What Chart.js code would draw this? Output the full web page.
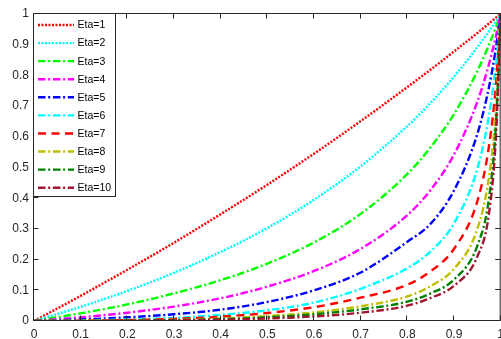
<!DOCTYPE html>
<html>
<head>
<meta charset="utf-8">
<script src="https://cdn.jsdelivr.net/npm/chart.js@4"></script>
<style>
  body { margin: 0; background: #fff; }
  #wrap { width: 501px; height: 339px; overflow: hidden; }
</style>
</head>
<body>
<div id="wrap"><canvas id="chart" width="510" height="339"></canvas></div>
<script>
// Data
const etaLabels = ["Eta=1", "Eta=2", "Eta=3", "Eta=4", "Eta=5", "Eta=6", "Eta=7", "Eta=8", "Eta=9", "Eta=10"];
const xValues = [0, 0.1, 0.2, 0.3, 0.4, 0.5, 0.6, 0.7, 0.8, 0.85, 0.9, 0.95, 0.975, 0.99, 1];
const eta1 = [0, 0.082, 0.167, 0.255, 0.348, 0.444, 0.545, 0.651, 0.762, 0.819, 0.878, 0.938, 0.969, 0.988, 1];
const eta2 = [0, 0.046, 0.098, 0.157, 0.225, 0.303, 0.395, 0.504, 0.635, 0.711, 0.796, 0.892, 0.944, 0.977, 1];
const eta3 = [0, 0.025, 0.054, 0.090, 0.133, 0.187, 0.256, 0.349, 0.479, 0.566, 0.674, 0.814, 0.900, 0.958, 1];
const eta4 = [0, 0.012, 0.027, 0.047, 0.074, 0.112, 0.163, 0.235, 0.345, 0.427, 0.542, 0.714, 0.837, 0.929, 1];
const eta5 = [0, 0.005, 0.012, 0.022, 0.037, 0.062, 0.100, 0.158, 0.258, 0.317, 0.425, 0.609, 0.762, 0.890, 1];
const eta6 = [0, 0.002, 0.005, 0.010, 0.020, 0.035, 0.060, 0.105, 0.172, 0.227, 0.318, 0.496, 0.669, 0.837, 1];
const eta7 = [0, 0.001, 0.003, 0.007, 0.014, 0.026, 0.045, 0.076, 0.118, 0.162, 0.235, 0.390, 0.570, 0.772, 1];
const eta8 = [0, 0.0005, 0.002, 0.004, 0.008, 0.016, 0.028, 0.048, 0.080, 0.114, 0.170, 0.300, 0.470, 0.692, 1];
const eta9 = [0, 0.0003, 0.001, 0.003, 0.006, 0.012, 0.022, 0.038, 0.063, 0.090, 0.135, 0.245, 0.400, 0.643, 1];
const eta10 = [0, 0.0002, 0.001, 0.002, 0.004, 0.008, 0.015, 0.027, 0.050, 0.075, 0.115, 0.210, 0.350, 0.604, 1];
const xTickLabels = ["0", "0.1", "0.2", "0.3", "0.4", "0.5", "0.6", "0.7", "0.8", "0.9", "1"];
const yTickLabels = ["0", "0.1", "0.2", "0.3", "0.4", "0.5", "0.6", "0.7", "0.8", "0.9", "1"];

// Styles (MATLAB-like)
const colors = ["#ff0000", "#00ffff", "#00ff00", "#ff00ff", "#0000ff", "#00ffff", "#ff0000", "#bfbf00", "#008000", "#a2142f"];
const DOT = [2, 1.5], DASHDOT = [7.5, 2.7, 2, 2.7], DASH = [8, 5.5];
const dashes = [DOT, DOT, DASHDOT, DASHDOT, DASHDOT, DASHDOT, DASH, DASHDOT, DASHDOT, DASHDOT];
const FONT = "'Liberation Sans', Arial, Helvetica, sans-serif";
const AXIS = "#262626";

const series = [eta1, eta2, eta3, eta4, eta5, eta6, eta7, eta8, eta9, eta10];

const datasets = series.map((ys, i) => ({
  label: etaLabels[i],
  data: ys.map((y, j) => ({ x: xValues[j], y })),
  borderColor: colors[i],
  borderDash: dashes[i],
  borderWidth: 2.4,
  pointRadius: 0,
  fill: false,
  cubicInterpolationMode: "monotone",
  order: 10 - i, // later lines on top, like MATLAB
}));

// box + inward ticks on all four sides
const framePlugin = {
  id: "frame",
  afterDatasetsDraw(chart) {
    const { ctx, chartArea: a, scales } = chart;
    const L = a.left - 0.5, R = a.right - 0.5, T = a.top - 0.5, B = a.bottom - 0.5;
    ctx.save();
    ctx.strokeStyle = AXIS;
    ctx.lineWidth = 1;
    ctx.setLineDash([]);
    ctx.strokeRect(L, T, R - L, B - T);
    ctx.beginPath();
    scales.x.ticks.forEach(t => {
      const px = Math.round(scales.x.getPixelForValue(t.value)) - 0.5;
      ctx.moveTo(px, B); ctx.lineTo(px, B - 5);
      ctx.moveTo(px, T); ctx.lineTo(px, T + 5);
    });
    scales.y.ticks.forEach(t => {
      const py = Math.round(scales.y.getPixelForValue(t.value)) - 0.5;
      ctx.moveTo(L, py); ctx.lineTo(L + 5, py);
      ctx.moveTo(R, py); ctx.lineTo(R - 5, py);
    });
    ctx.stroke();
    ctx.restore();
  },
  afterDraw(chart) {
    // legend box in the top-left corner
    const { ctx, chartArea: a } = chart;
    const left = a.left - 0.5, top = a.top - 0.5;
    const w = 82, h = 183;
    ctx.save();
    ctx.fillStyle = "#fff";
    ctx.fillRect(left, top, w, h);
    ctx.strokeStyle = AXIS;
    ctx.lineWidth = 1;
    ctx.strokeRect(left, top, w, h);
    ctx.font = "10.5px " + FONT;
    ctx.textBaseline = "middle";
    ctx.fillStyle = "#000";
    chart.data.datasets.forEach((ds, i) => {
      const y = a.top + 11 + i * 18.08;
      ctx.strokeStyle = ds.borderColor;
      ctx.lineWidth = 2.4;
      ctx.setLineDash(ds.borderDash);
      ctx.beginPath();
      ctx.moveTo(left + 4.5, y);
      ctx.lineTo(left + 40.5, y);
      ctx.stroke();
      ctx.fillText(ds.label, left + 44, y + 0.5);
    });
    ctx.restore();
  }
};

const tickFont = { family: FONT, size: 12 };

new Chart(document.getElementById("chart"), {
  type: "line",
  data: { datasets },
  options: {
    responsive: false,
    devicePixelRatio: 1,
    animation: false,
    layout: { padding: { left: 0, right: 8, top: 14, bottom: 0 } },
    plugins: { legend: { display: false }, tooltip: { enabled: false } },
    scales: {
      x: {
        type: "linear",
        min: 0,
        max: 1,
        grid: { display: false, drawTicks: false },
        border: { display: false },
        ticks: {
          stepSize: 0.1,
          autoSkip: false,
          maxRotation: 0,
          padding: 6,
          color: AXIS,
          font: tickFont,
          callback: (v, i) => xTickLabels[i],
        },
        afterFit: s => { s.height = 18; },
      },
      y: {
        type: "linear",
        min: 0,
        max: 1,
        grid: { display: false, drawTicks: false },
        border: { display: false },
        ticks: {
          stepSize: 0.1,
          autoSkip: false,
          padding: 5,
          color: AXIS,
          font: tickFont,
          callback: (v, i) => yTickLabels[i],
        },
        afterFit: s => { s.width = 34; },
      },
    },
  },
  plugins: [framePlugin],
});
</script>
</body>
</html>
